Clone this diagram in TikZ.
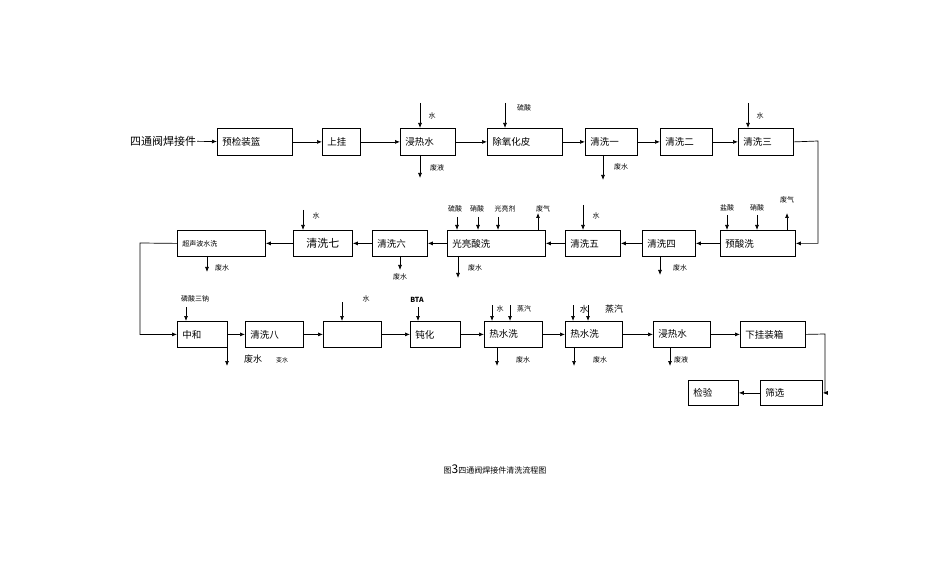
\documentclass[tikz,border=0pt]{standalone}
\usepackage{fontspec}
\setmainfont{Noto Sans CJK SC}
\usetikzlibrary{arrows.meta}
\begin{document}
\begin{tikzpicture}[x=1pt,y=-1pt,
  bx/.style={draw,line width=0.8pt,anchor=north west,inner sep=0pt,font=\fontsize{9.5}{10}\selectfont},
  lb/.style={font=\fontsize{7}{8}\selectfont,inner sep=0pt},
  ar/.style={-{Latex[length=5pt,width=4pt]},line width=0.7pt}]
\useasboundingbox (0,0) rectangle (950,577);
\newcommand\bxx[6]{\node[bx,minimum width=#4-#2,minimum height=#5-#3,text width=#4-#2-10] (#1) at (#2,#3) {#6};}
% row1
\node[font=\fontsize{11}{12}\selectfont,inner sep=1pt] (in) at (163,141) {四通阀焊接件};
\bxx{a1}{217}{128}{292}{155}{预检装篮}
\bxx{a2}{322}{128}{360}{155}{上挂}
\bxx{a3}{400}{128}{455}{155}{浸热水}
\bxx{a4}{487}{128}{562}{155}{除氧化皮}
\bxx{a5}{585}{128}{637}{155}{清洗一}
\bxx{a6}{660}{128}{712}{155}{清洗二}
\bxx{a7}{738}{128}{793}{155}{清洗三}
\draw[ar] (in) -- (a1);
\foreach \p/\q in {a1/a2,a2/a3,a3/a4,a4/a5,a5/a6,a6/a7} \draw[ar] (\p) -- (\q);
\draw[ar] (420,103) -- (420,128); \node[lb] at (432,116) {水};
\draw[ar] (420,155) -- (420,178); \node[lb] at (437,168) {废液};
\draw[ar] (505,103) -- (505,128); \node[lb] at (524,108) {硫酸};
\draw[ar] (603,155) -- (603,180); \node[lb] at (621,167) {废水};
\draw[ar] (748,103) -- (748,128); \node[lb] at (760,116) {水};
% row2
\bxx{b1}{720}{230}{795}{256}{预酸洗}
\bxx{b2}{642}{230}{695}{256}{清洗四}
\bxx{b3}{565}{230}{620}{256}{清洗五}
\bxx{b4}{447}{230}{545}{256}{光亮酸洗}
\bxx{b5}{372}{230}{427}{256}{清洗六}
\node[bx,minimum width=59,minimum height=26,font=\fontsize{11}{12}\selectfont] (b6) at (293,230) {清洗七};
\node[bx,minimum width=88,minimum height=26,text width=78,font=\fontsize{7}{8}\selectfont] (b7) at (177,230) {超声波水洗};
\draw[ar] (a7.east) -- (818,141) |- (b1.east);
\foreach \p/\q in {b1/b2,b2/b3,b3/b4,b4/b5,b5/b6,b6/b7} \draw[ar] (\p) -- (\q);
\draw[ar] (727,215) -- (727,230); \node[lb] at (727,208) {盐酸};
\draw[ar] (757,215) -- (757,230); \node[lb] at (757,208) {硝酸};
\draw[ar] (787,230) -- (787,213); \node[lb] at (787,200) {废气};
\draw[ar] (660,256) -- (660,275); \node[lb] at (680,268) {废水};
\draw[ar] (583,205) -- (583,230); \node[lb] at (596,216) {水};
\draw[ar] (457,217) -- (457,230); \node[lb] at (455,209) {硫酸};
\draw[ar] (478,217) -- (478,230); \node[lb] at (477,209) {硝酸};
\draw[ar] (498,217) -- (498,230); \node[lb] at (505,209) {光亮剂};
\draw[ar] (538,230) -- (538,213); \node[lb] at (543,209) {废气};
\draw[ar] (458,256) -- (458,278); \node[lb] at (475,268) {废水};
\draw[ar] (400,256) -- (400,270); \node[lb] at (400,277) {废水};
\draw[ar] (303,210) -- (303,230); \node[lb] at (316,216) {水};
\draw[ar] (207,256) -- (207,272); \node[lb] at (222,268) {废水};
% row3
\bxx{c1}{177}{321}{227}{347}{中和}
\bxx{c2}{245}{321}{303}{347}{清洗八}
\bxx{c3}{323}{321}{381}{347}{}
\bxx{c4}{410}{321}{460}{347}{钝化}
\bxx{c5}{484}{321}{542}{347}{热水洗}
\bxx{c6}{565}{321}{622}{347}{热水洗}
\bxx{c7}{653}{321}{710}{347}{浸热水}
\bxx{c8}{740}{321}{805}{347}{下挂装箱}
\draw[ar] (b7.west) -- (140,243) |- (c1.west);
\foreach \p/\q in {c1/c2,c2/c3,c3/c4,c4/c5,c5/c6,c6/c7,c7/c8} \draw[ar] (\p) -- (\q);
\draw[ar] (186,307) -- (186,321); \node[lb] at (195,299) {磷酸三钠};
\draw[ar] (227,347) -- (227,366); \node[font=\fontsize{9}{10}\selectfont,inner sep=0pt] at (253,359) {废水};
\node[lb,font=\fontsize{6}{7}\selectfont] at (282,360) {变水};
\draw[ar] (342,302) -- (342,321); \node[lb] at (366,299) {水};
\draw[ar] (418,307) -- (418,321); \node[lb,font=\fontsize{7}{8}\selectfont\bfseries] at (417,300) {BTA};
\draw[ar] (492,305) -- (492,321); \node[lb] at (500,309) {水};
\draw[ar] (510,305) -- (510,321); \node[lb] at (524,309) {蒸汽};
\draw[ar] (497,347) -- (497,366); \node[lb] at (523,360) {废水};
\draw[ar] (573,305) -- (573,321); \node[lb,font=\fontsize{8.5}{9}\selectfont] at (584,309) {水};
\draw[ar] (588,305) -- (588,321); \node[lb,font=\fontsize{9}{10}\selectfont] at (614,309) {蒸汽};
\draw[ar] (574,347) -- (574,366); \node[lb] at (600,360) {废水};
\draw[ar] (670,347) -- (670,366); \node[lb] at (681,360) {废液};
\bxx{d1}{760}{380}{822}{405}{筛选}
\bxx{d2}{688}{380}{738}{405}{检验}
\draw[ar] (c8.east) -- (825,334) |- (d1.east);
\draw[ar] (d1) -- (d2);
\node[font=\fontsize{8}{9}\selectfont] (cap) at (495,469) {图{\fontsize{12}{12}\selectfont 3}四通阀焊接件清洗流程图};
\end{tikzpicture}
\end{document}
